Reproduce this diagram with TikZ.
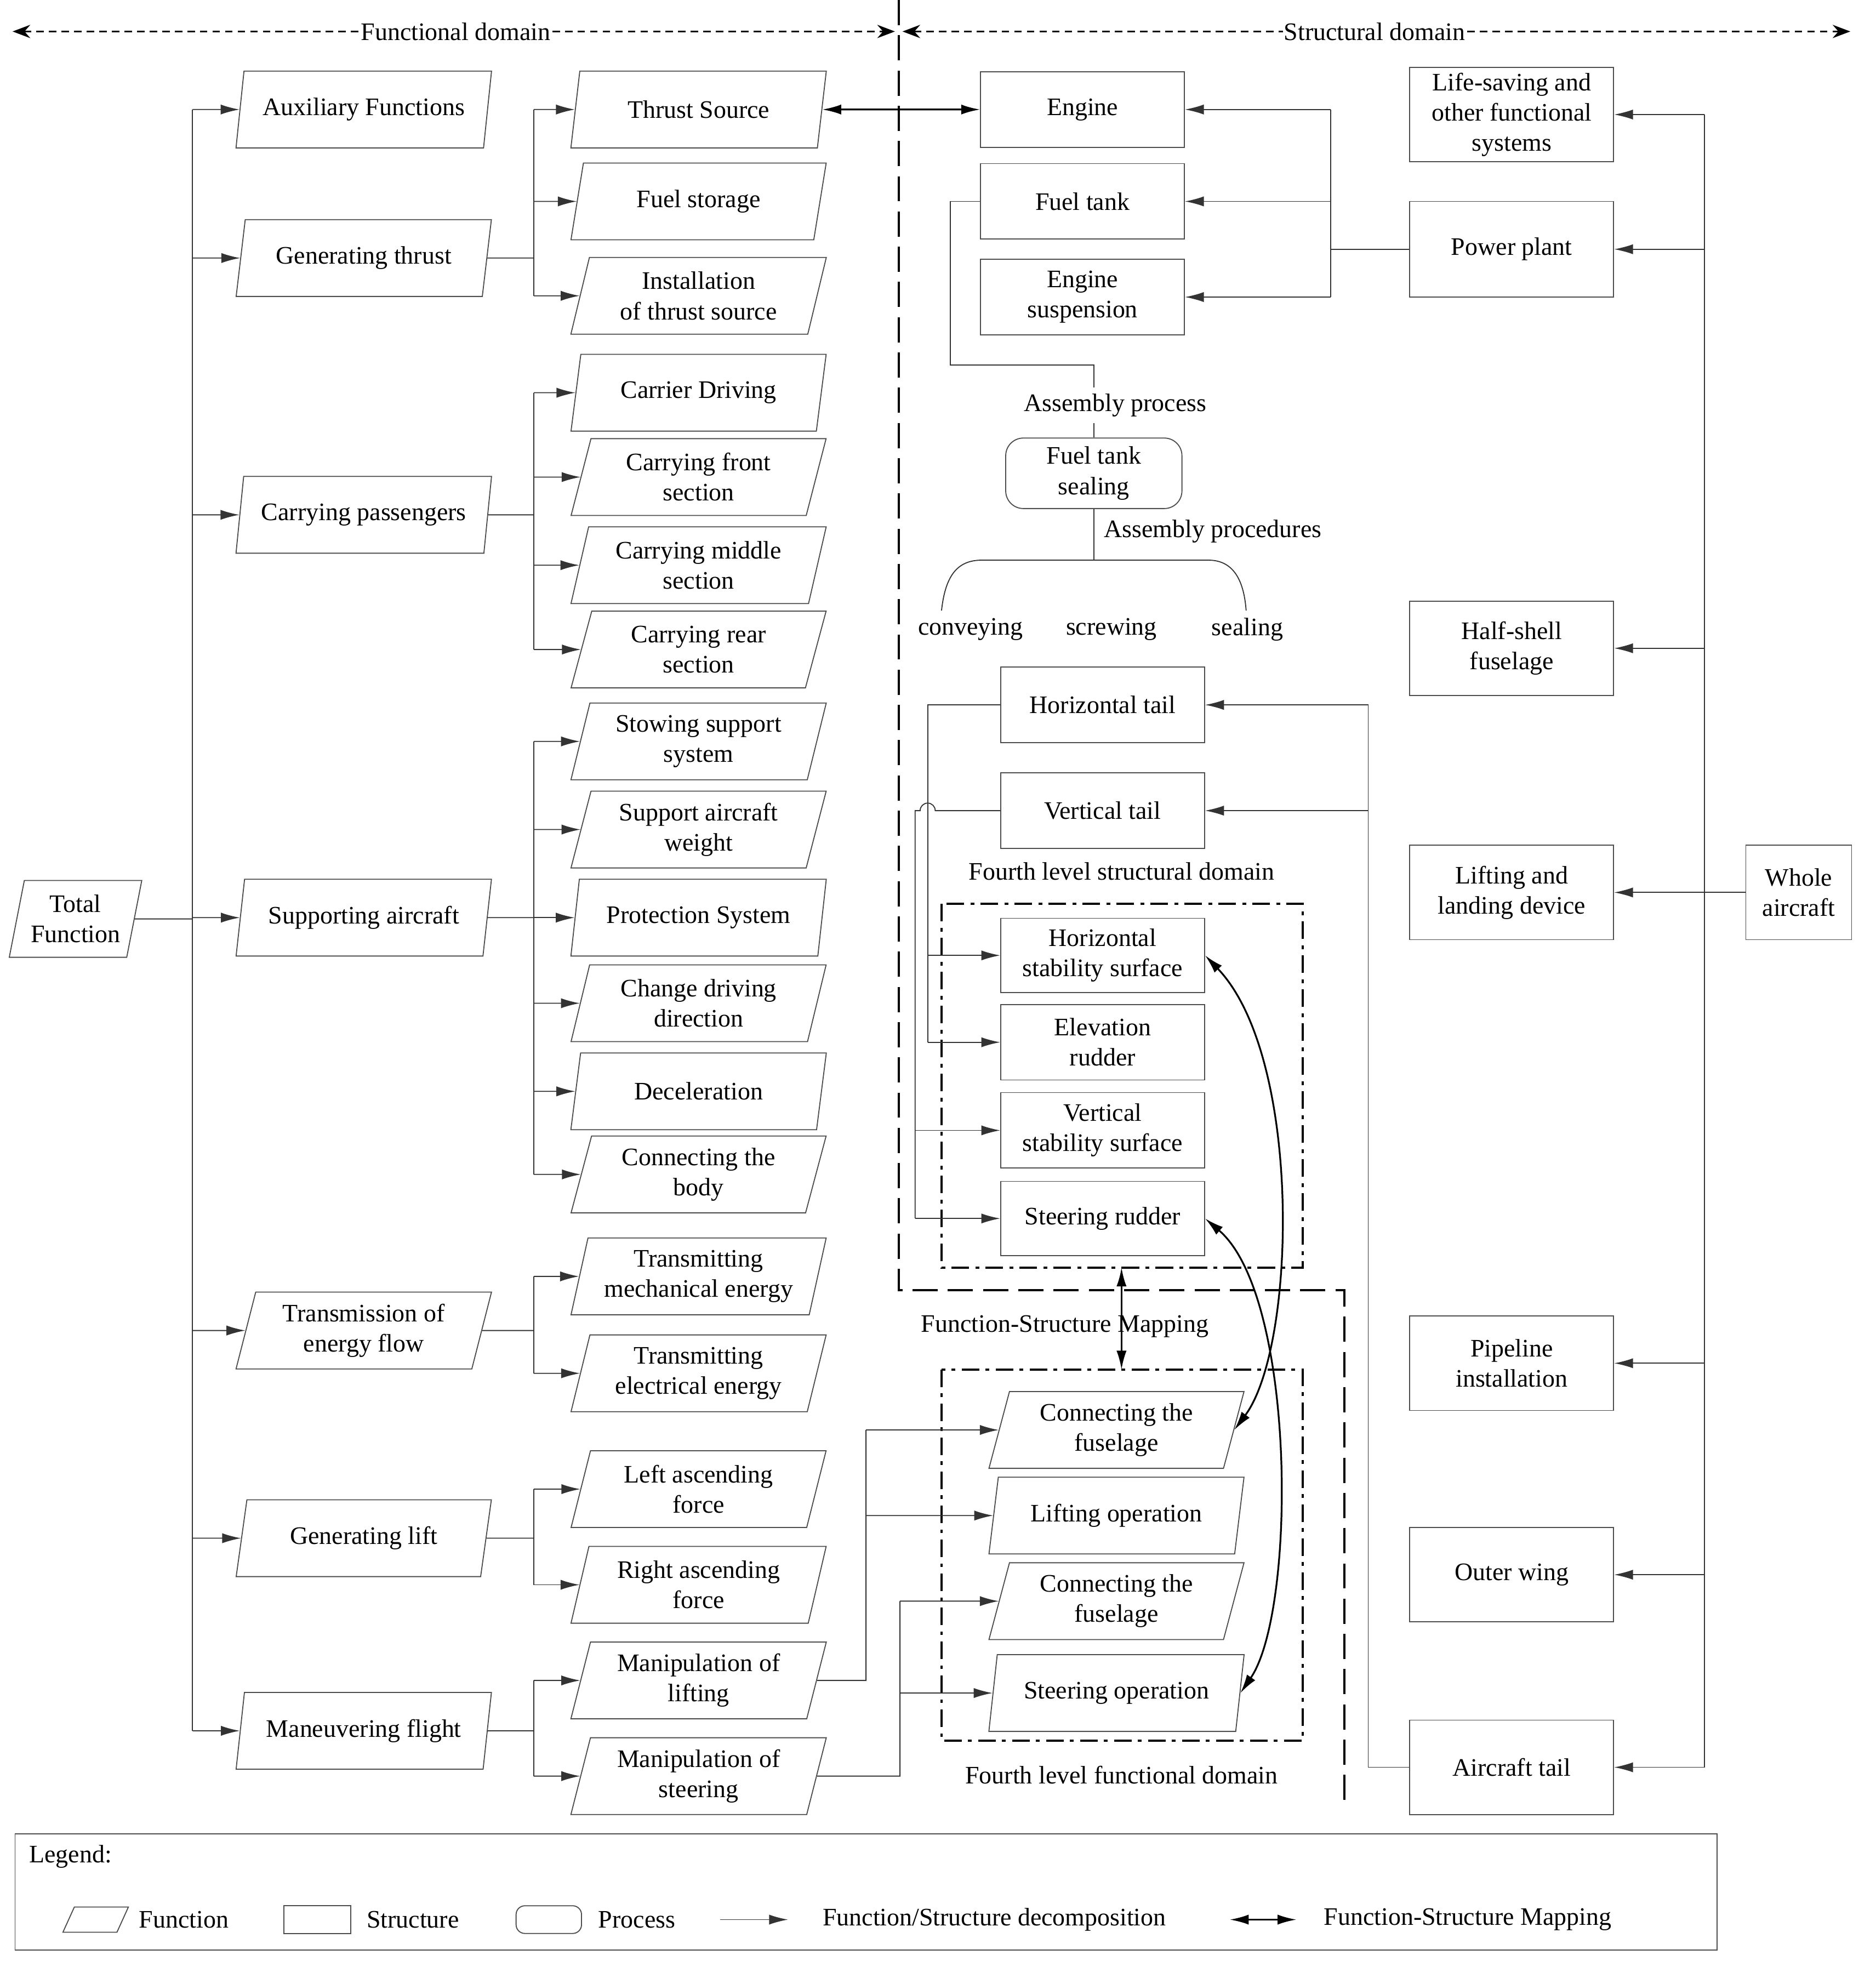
\documentclass[tikz,border=0pt]{standalone}
\usepackage{fontspec}
\setmainfont{Liberation Serif}
\usetikzlibrary{shapes.geometric,arrows.meta}
\begin{document}
\begin{tikzpicture}[x=1pt,y=-1pt,
  font=\fontsize{20}{24}\selectfont,
  fn/.style={draw=black!70,line width=0.8pt,trapezium,trapezium left angle=75,trapezium right angle=105,trapezium stretches=true,minimum width=203pt,minimum height=61pt,align=center,inner sep=1pt},
  fn2/.style={fn,minimum width=203pt},
  st/.style={draw=black!70,line width=0.8pt,rectangle,minimum width=162pt,minimum height=60pt,align=center,inner sep=1pt},
  st2/.style={st,minimum height=75pt},
  ln/.style={draw=black!80,line width=0.8pt},
  ar/.style={ln,-{Latex[length=15pt,width=8pt]}},
  map/.style={line width=1.4pt,{Latex[length=15pt,width=8pt]}-{Latex[length=15pt,width=8pt]}},
  dd/.style={line width=1.8pt,dash pattern=on 14pt off 5pt on 3pt off 5pt},
  lbl/.style={inner sep=1pt}]
\useasboundingbox (0,0) rectangle (1490,1571.4);
% top domain arrows
\draw[line width=1.6pt,dash pattern=on 6pt off 4pt,{Stealth[length=14pt]}-{Stealth[length=14pt]}] (10,25) -- (711,25);
\draw[line width=1.6pt,dash pattern=on 6pt off 4pt,{Stealth[length=14pt]}-{Stealth[length=14pt]}] (717,25) -- (1470,25);
\node[fill=white,lbl] (fd) at (362,25) {Functional domain};
\node[fill=white,lbl] (sd) at (1092,25) {Structural domain};
\draw[line width=1.8pt,dash pattern=on 20pt off 8pt] (714,0) -- (714,1025) -- (1068,1025) -- (1068,1430);
% total function
\node[fn,minimum width=106pt] (tf) at (60,730) {Total\\Function};
% level 2
\node[fn] (a1) at (289,87) {Auxiliary Functions};
\node[fn] (a2) at (289,205) {Generating thrust};
\node[fn] (a3) at (289,409) {Carrying passengers};
\node[fn] (a4) at (289,729) {Supporting aircraft};
\node[fn] (a5) at (289,1057) {Transmission of\\energy flow};
\node[fn] (a6) at (289,1222) {Generating lift};
\node[fn] (a7) at (289,1375) {Maneuvering flight};
\draw[ln] (tf.east) -- (153,730);
\draw[ln] (153,87) -- (153,1375);
\foreach \n/\y in {a1/87,a2/205,a3/409,a4/729,a5/1057,a6/1222,a7/1375} \draw[ar] (153,\y) -- (\n.west);
% level 3
\node[fn] (b1) at (555,87) {Thrust Source};
\node[fn] (b2) at (555,160) {Fuel storage};
\node[fn] (b3) at (555,235) {Installation\\of thrust source};
\node[fn] (c1) at (555,312) {Carrier Driving};
\node[fn] (c2) at (555,379) {Carrying front\\section};
\node[fn] (c3) at (555,449) {Carrying middle\\section};
\node[fn] (c4) at (555,516) {Carrying rear\\section};
\node[fn] (d1) at (555,589) {Stowing support\\system};
\node[fn] (d2) at (555,659) {Support aircraft\\weight};
\node[fn] (d3) at (555,729) {Protection System};
\node[fn] (d4) at (555,797) {Change driving\\direction};
\node[fn] (d5) at (555,867) {Deceleration};
\node[fn] (d6) at (555,933) {Connecting the\\body};
\node[fn] (e1) at (555,1014) {Transmitting\\mechanical energy};
\node[fn] (e2) at (555,1091) {Transmitting\\electrical energy};
\node[fn] (f1) at (555,1183) {Left ascending\\force};
\node[fn] (f2) at (555,1259) {Right ascending\\force};
\node[fn] (g1) at (555,1335) {Manipulation of\\lifting};
\node[fn] (g2) at (555,1411) {Manipulation of\\steering};
\draw[ln] (a2.east) -- (424,205); \draw[ln] (424,87) -- (424,235);
\foreach \n/\y in {b1/87,b2/160,b3/235} \draw[ar] (424,\y) -- (\n.west);
\draw[ln] (a3.east) -- (424,409); \draw[ln] (424,312) -- (424,516);
\foreach \n/\y in {c1/312,c2/379,c3/449,c4/516} \draw[ar] (424,\y) -- (\n.west);
\draw[ln] (a4.east) -- (424,729); \draw[ln] (424,589) -- (424,933);
\foreach \n/\y in {d1/589,d2/659,d3/729,d4/797,d5/867,d6/933} \draw[ar] (424,\y) -- (\n.west);
\draw[ln] (a5.east) -- (424,1057); \draw[ln] (424,1014) -- (424,1091);
\foreach \n/\y in {e1/1014,e2/1091} \draw[ar] (424,\y) -- (\n.west);
\draw[ln] (a6.east) -- (424,1222); \draw[ln] (424,1183) -- (424,1259);
\foreach \n/\y in {f1/1183,f2/1259} \draw[ar] (424,\y) -- (\n.west);
\draw[ln] (a7.east) -- (424,1375); \draw[ln] (424,1335) -- (424,1411);
\foreach \n/\y in {g1/1335,g2/1411} \draw[ar] (424,\y) -- (\n.west);
% structural
\node[st] (s1) at (860,87) {Engine};
\node[st] (s2) at (860,160) {Fuel tank};
\node[st] (s3) at (860,236) {Engine\\suspension};
\node[st2] (r1) at (1201,91) {Life-saving and\\other functional\\systems};
\node[st2,minimum height=76pt] (r2) at (1201,198) {Power plant};
\node[st2] (r3) at (1201,515) {Half-shell\\fuselage};
\node[st2] (r4) at (1201,709) {Lifting and\\landing device};
\node[st2] (r5) at (1201,1083) {Pipeline\\installation};
\node[st2] (r6) at (1201,1251) {Outer wing};
\node[st2] (r7) at (1201,1404) {Aircraft tail};
\node[st2,minimum width=84pt] (wa) at (1429,709) {Whole\\aircraft};
\draw[ln] (wa.west) -- (1354,709); \draw[ln] (1354,91) -- (1354,1404);
\foreach \n/\y in {r1/91,r2/198,r3/515,r4/709,r5/1083,r6/1251,r7/1404} \draw[ar] (1354,\y) -- (\n.east);
\draw[ln] (r2.west) -- (1057,198); \draw[ln] (1057,87) -- (1057,236);
\foreach \n/\y in {s1/87,s2/160,s3/236} \draw[ar] (1057,\y) -- (\n.east);
\draw[map] (b1.east) -- (s1.west);
% fuel tank process
\node[lbl] (ap) at (886,322) {Assembly process};
\node[draw=black!70,line width=0.8pt,rounded corners=14pt,minimum width=140pt,minimum height=56pt,align=center,inner sep=1pt] (fs) at (869,376) {Fuel tank\\sealing};
\draw[ln] (s2.west) -- (755,160) -- (755,290) -- (869,290) -- (869,308);
\draw[ln] (869,336) -- (fs.north);
\node[lbl,anchor=west] (apr) at (876,422) {Assembly procedures};
\draw[ln] (fs.south) -- (869,445);
\draw[ln] (748,485) .. controls (751,458) and (760,445) .. (780,445) -- (960,445) .. controls (978,445) and (988,458) .. (990,485);
\node[lbl] (cv) at (771,500) {conveying};
\node[lbl] (sc) at (883,500) {screwing};
\node[lbl] (se) at (991,500) {sealing};
% tails
\node[st] (ht) at (876,560) {Horizontal tail};
\node[st] (vt) at (876,644) {Vertical tail};
\draw[ln] (r7.west) -- (1087,1404) -- (1087,560);
\draw[ar] (1087,560) -- (ht.east);
\draw[ar] (1087,644) -- (vt.east);
\node[lbl] (fl) at (891,692) {Fourth level structural domain};
\draw[dd] (748,718) rectangle (1035,1007);
\node[st,minimum height=59pt] (hs) at (876,759) {Horizontal\\stability surface};
\node[st] (er) at (876,828) {Elevation\\rudder};
\node[st] (vs) at (876,898) {Vertical\\stability surface};
\node[st,minimum height=59pt] (sr) at (876,968) {Steering rudder};
\draw[ln] (ht.west) -- (737,560) -- (737,828);
\draw[ar] (737,759) -- (hs.west);
\draw[ar] (737,828) -- (er.west);
\draw[ln] (vt.west) -- (743,644) arc[start angle=0,end angle=180,radius=6pt] -- (727,644) -- (727,968);
\draw[ar] (727,898) -- (vs.west);
\draw[ar] (727,968) -- (sr.west);
% mapping
\draw[map] (891,1007) -- (891,1088);
\node[lbl] (fsm) at (846,1054) {Function-Structure Mapping};
\draw[dd] (748,1088) rectangle (1035,1383);
\node[fn] (h1) at (887,1136) {Connecting the\\fuselage};
\node[fn] (h2) at (887,1204) {Lifting operation};
\node[fn] (h3) at (887,1272) {Connecting the\\fuselage};
\node[fn] (h4) at (887,1345) {Steering operation};
\node[lbl] (ff) at (891,1410) {Fourth level functional domain};
\draw[ln] (g1.east) -- (688,1335) -- (688,1136);
\draw[ar] (688,1136) -- (h1.west);
\draw[ar] (688,1204) -- (h2.west);
\draw[ln] (g2.east) -- (715,1411) -- (715,1272);
\draw[ar] (715,1272) -- (h3.west);
\draw[ar] (715,1345) -- (h4.west);
\draw[map] (hs.east) .. controls (1035,840) and (1030,1070) .. (h1.east);
\draw[map] (sr.east) .. controls (1030,1030) and (1030,1280) .. (h4.east);
% legend
\draw[black!70,line width=0.8pt] (12,1457) rectangle (1364,1549);
\node[lbl,anchor=west] (lg) at (22,1475) {Legend:};
\node[fn,minimum width=52pt,minimum height=20pt] (l1) at (76,1525) {};
\node[lbl] (l1t) at (146,1525) {Function};
\node[st,minimum width=53pt,minimum height=22pt] (l2) at (252,1525) {};
\node[lbl] (l2t) at (328,1525) {Structure};
\node[draw=black!70,line width=0.8pt,rounded corners=7pt,minimum width=52pt,minimum height=22pt] (l3) at (436,1525) {};
\node[lbl] (l3t) at (506,1525) {Process};
\coordinate (l4a) at (572,1525); \coordinate (l4b) at (626,1525);
\draw[ar] (l4a) -- (l4b);
\node[lbl] (l4t) at (790,1525) {Function/Structure decomposition};
\coordinate (l5a) at (977,1525); \coordinate (l5b) at (1030,1525);
\draw[map] (l5a) -- (l5b);
\node[lbl] (l5t) at (1166,1525) {Function-Structure Mapping};
\end{tikzpicture}
\end{document}
